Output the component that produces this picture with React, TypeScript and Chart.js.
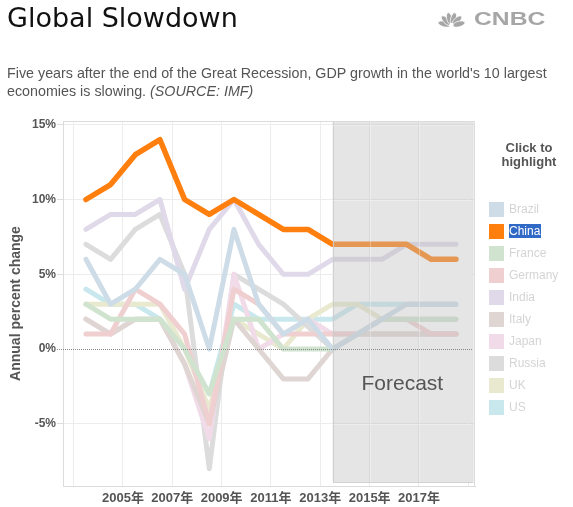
import React, { useEffect, useRef } from "react";
import { Chart, registerables } from "chart.js";

Chart.register(...registerables);

const YEARS = [2004, 2005, 2006, 2007, 2008, 2009, 2010, 2011, 2012, 2013, 2014, 2015, 2016, 2017, 2018, 2019];
const BRAZIL = [6, 3, 4, 6, 5, 0, 8, 3, 1, 2, 0, 1, 2, 3, 3, 3];
const CHINA = [10, 11, 13, 14, 10, 9, 10, 9, 8, 8, 7, 7, 7, 7, 6, 6];
const FRANCE = [3, 2, 2, 2, 0, -3, 2, 2, 0, 0, 0, 1, 2, 2, 2, 2];
const GERMANY = [1, 1, 4, 3, 1, -5, 4, 3, 1, 1, 1, 1, 2, 2, 1, 1];
const INDIA = [8, 9, 9, 10, 4, 8, 10, 7, 5, 5, 6, 6, 6, 7, 7, 7];
const ITALY = [2, 1, 2, 2, -1, -5, 2, 0, -2, -2, 0, 1, 1, 1, 1, 1];
const JAPAN = [2, 1, 2, 2, -1, -6, 5, 0, 1, 2, 1, 1, 1, 1, 1, 1];
const RUSSIA = [7, 6, 8, 9, 5, -8, 5, 4, 3, 1.5, 0, 1, 1, 1, 1, 1];
const UK = [3, 3, 3, 3, 0, -4, 2, 1, 0, 2, 3, 3, 2, 2, 2, 2];
const US = [4, 3, 3, 2, 0, -3, 3, 2, 2, 2, 2, 3, 3, 3, 3, 3];

const COUNTRIES = ["Brazil", "China", "France", "Germany", "India", "Italy", "Japan", "Russia", "UK", "US"];
const SERIES = [BRAZIL, CHINA, FRANCE, GERMANY, INDIA, ITALY, JAPAN, RUSSIA, UK, US];
const COLORS = ["#cddce7", "#ff7f0e", "#cfe3cf", "#f0cfd0", "#e0d9ea", "#dfd5d3", "#f1dbe8", "#dcdcdc", "#e9e9d0", "#c9e8ed"];
const HIGHLIGHT = "China";

const Y_TICKS = [-5, 0, 5, 10, 15];
const X_TICKS = [2003.5, 2005.5, 2007.5, 2009.5, 2011.5, 2013.5, 2015.5, 2017.5, 2019.5];
const X_LABELS = ["", "2005年", "2007年", "2009年", "2011年", "2013年", "2015年", "2017年", ""];
const FORECAST_START = 2014;
const FORECAST_END = 2019.65;

const FONT = "'Liberation Sans', Arial, 'Noto Sans CJK SC', sans-serif";

const overlayPlugin = {
  id: "overlay",
  afterDatasetsDraw(chart: any) {
    const { ctx, chartArea, scales } = chart;
    const x = scales.x;
    const y = scales.y;
    const left = x.getPixelForValue(FORECAST_START);
    const right = x.getPixelForValue(FORECAST_END);
    const top = chartArea.top;
    const bottom = chartArea.bottom - 4;
    ctx.save();
    ctx.fillStyle = "rgba(190,190,190,0.4)";
    ctx.fillRect(left, top, right - left, bottom - top);
    ctx.strokeStyle = "rgba(205,205,205,0.9)";
    ctx.lineWidth = 1;
    ctx.strokeRect(Math.round(left) + 0.5, Math.round(top) + 0.5, right - left, bottom - top);
    ctx.strokeStyle = "rgba(255,255,255,0.3)";
    X_TICKS.forEach((v) => {
      const px = Math.round(x.getPixelForValue(v)) + 0.5;
      if (px > left + 1 && px < right - 1) {
        ctx.beginPath();
        ctx.moveTo(px, top);
        ctx.lineTo(px, bottom);
        ctx.stroke();
      }
    });
    Y_TICKS.forEach((v) => {
      if (v === 0) return;
      const py = Math.round(y.getPixelForValue(v)) + 0.5;
      ctx.beginPath();
      ctx.moveTo(left, py);
      ctx.lineTo(right, py);
      ctx.stroke();
    });
    const zy = Math.round(y.getPixelForValue(0)) + 0.5;
    ctx.strokeStyle = "#8a8a8a";
    ctx.setLineDash([1, 1]);
    ctx.beginPath();
    ctx.moveTo(chartArea.left - 6, zy);
    ctx.lineTo(right, zy);
    ctx.stroke();
    ctx.setLineDash([]);
    ctx.strokeStyle = "#dcdcdc";
    ctx.beginPath();
    ctx.moveTo(chartArea.left, Math.round(top) + 0.5);
    ctx.lineTo(chartArea.right - 0.5, Math.round(top) + 0.5);
    ctx.lineTo(chartArea.right - 0.5, chartArea.bottom);
    ctx.stroke();
    ctx.fillStyle = "#555555";
    ctx.font = "21px " + FONT;
    ctx.textAlign = "center";
    ctx.textBaseline = "middle";
    ctx.fillText("Forecast", (left + right) / 2, y.getPixelForValue(-2.35));
    ctx.restore();
  },
};

function ChartCanvas() {
  const ref = useRef<HTMLCanvasElement | null>(null);
  useEffect(() => {
    if (!ref.current) return;
    const datasets = COUNTRIES.map((name, i) => ({
      label: name,
      data: YEARS.map((yr, j) => ({ x: yr, y: SERIES[i][j] })),
      borderColor: COLORS[i],
      backgroundColor: COLORS[i],
      borderWidth: name === HIGHLIGHT ? 5.5 : 5,
      pointRadius: 0,
      tension: 0,
      borderCapStyle: "round" as const,
      borderJoinStyle: "round" as const,
      order: name === HIGHLIGHT ? -1 : 0,
    }));
    const chart = new Chart(ref.current, {
      type: "line",
      data: { datasets },
      options: {
        animation: false,
        responsive: false,
        maintainAspectRatio: false,
        layout: { padding: { left: 0, right: 98, top: 121, bottom: 0 } },
        plugins: { legend: { display: false }, tooltip: { enabled: false } },
        scales: {
          x: {
            type: "linear",
            min: 2003.07,
            max: 2019.77,
            afterBuildTicks: (s: any) => {
              s.ticks = X_TICKS.map((v) => ({ value: v }));
            },
            afterFit: (s: any) => {
              s.height = 21;
            },
            ticks: {
              autoSkip: false,
              maxRotation: 0,
              padding: 5,
              color: "#555555",
              font: { family: FONT, size: 13, weight: "bold" },
              callback: (v: any) => {
                const idx = X_TICKS.indexOf(Number(v));
                return idx >= 0 ? X_LABELS[idx] : "";
              },
            },
            grid: { color: "#ececec", drawTicks: false },
            border: { color: "#dcdcdc" },
          },
          y: {
            min: -9.16,
            max: 15.25,
            afterBuildTicks: (s: any) => {
              s.ticks = Y_TICKS.map((v) => ({ value: v }));
            },
            afterFit: (s: any) => {
              s.width = 63;
            },
            ticks: {
              padding: 1,
              color: "#555555",
              font: { family: FONT, size: 12, weight: "bold" },
              callback: (v: any) => v + "%",
            },
            grid: {
              color: (c: any) => (c.tick && c.tick.value === 0 ? "rgba(0,0,0,0)" : "#ececec"),
              tickColor: (c: any) => (c.tick && c.tick.value === 0 ? "rgba(0,0,0,0)" : "#dddddd"),
              tickLength: 6,
            },
            border: { color: "#dcdcdc" },
            title: {
              display: true,
              text: "Annual percent change",
              color: "#555555",
              font: { family: FONT, size: 14, weight: "bold" },
              padding: { top: 8, bottom: 0 },
            },
          },
        },
      },
      plugins: [overlayPlugin],
    });
    return () => chart.destroy();
  }, []);
  return (
    <canvas
      ref={ref}
      width={573}
      height={507}
      style={{ position: "absolute", left: 0, top: 0, width: 573, height: 507 }}
    />
  );
}

function Peacock() {
  const angles = [-75, -45, -15, 15, 45, 75];
  return (
    <svg width={27} height={16} viewBox="0 0 27 16" style={{ position: "absolute", left: 438, top: 11 }}>
      {angles.map((a) => (
        <ellipse
          key={a}
          cx={13.5}
          cy={7.5}
          rx={2.8}
          ry={6.3}
          fill="#a6a6a6"
          stroke="#ffffff"
          strokeWidth={0.7}
          transform={`rotate(${a} 13.5 15)`}
        />
      ))}
      <circle cx={13.5} cy={14} r={2.2} fill="#ffffff" />
    </svg>
  );
}

export default function App() {
  return (
    <div
      style={{
        position: "absolute",
        left: 0,
        top: 0,
        width: 573,
        height: 507,
        background: "#ffffff",
        overflow: "hidden",
        fontFamily: FONT,
      }}
    >
      <ChartCanvas />
      <div
        style={{
          position: "absolute",
          left: 7,
          top: 3,
          fontFamily: "'DejaVu Sans', sans-serif",
          fontSize: 27,
          lineHeight: "30px",
          color: "#111111",
          whiteSpace: "nowrap",
        }}
      >
        Global Slowdown
      </div>
      <Peacock />
      <div
        style={{
          position: "absolute",
          left: 474,
          top: 8,
          fontFamily: FONT,
          fontWeight: "bold",
          fontSize: 19,
          lineHeight: "22px",
          color: "#a6a6a6",
          transform: "scaleX(1.3)",
          transformOrigin: "left center",
          whiteSpace: "nowrap",
        }}
      >
        CNBC
      </div>
      <div
        style={{
          position: "absolute",
          left: 7,
          top: 64,
          fontFamily: FONT,
          fontSize: 14.3,
          lineHeight: "18px",
          color: "#555555",
          whiteSpace: "nowrap",
        }}
      >
        Five years after the end of the Great Recession, GDP growth in the world's 10 largest
        <br />
        economies is slowing. <i>(SOURCE: IMF)</i>
      </div>
      <div
        style={{
          position: "absolute",
          left: 478,
          width: 102,
          top: 141,
          textAlign: "center",
          fontFamily: FONT,
          fontWeight: "bold",
          fontSize: 13,
          lineHeight: "14px",
          color: "#555555",
        }}
      >
        Click to
        <br />
        highlight
      </div>
      {COUNTRIES.map((name, i) => {
        const cy = 209 + i * 22;
        const active = name === HIGHLIGHT;
        return (
          <div key={name}>
            <div
              style={{
                position: "absolute",
                left: 489,
                top: cy - 7,
                width: 15,
                height: 15,
                background: COLORS[i],
              }}
            />
            <div
              style={{
                position: "absolute",
                left: 509,
                top: cy - 7,
                height: 14,
                lineHeight: "14px",
                padding: active ? "0 1px 0 0" : 0,
                fontFamily: FONT,
                fontSize: 12,
                color: active ? "#ffffff" : "#d4d4d4",
                background: active ? "#3169c6" : "transparent",
                whiteSpace: "nowrap",
              }}
            >
              {name}
            </div>
          </div>
        );
      })}
    </div>
  );
}
